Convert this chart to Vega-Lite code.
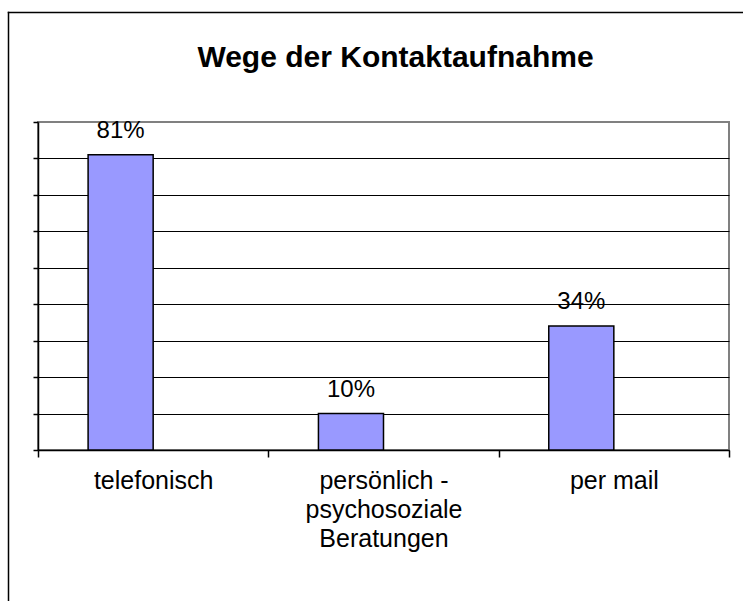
{
  "$schema": "https://vega.github.io/schema/vega-lite/v6.json",
  "autosize": {"type": "none"},
  "width": 691,
  "height": 328,
  "padding": {"left": 38, "top": 122, "right": 14, "bottom": 151},
  "background": "white",
  "config": {"font": "Liberation Sans", "view": {"stroke": "#808080", "strokeWidth": 2}},
  "title": {"text": "Wege der Kontaktaufnahme", "fontSize": 30, "fontWeight": "bold", "color": "black", "anchor": "middle", "dx": 12, "baseline": "alphabetic", "offset": -85, "font": "Liberation Sans"},
  "data": {"values": [
    {"Weg": "telefonisch", "Reihe": "Reihe1", "Anteil": 0.81},
    {"Weg": "persönlich - psychosoziale Beratungen", "Reihe": "Reihe1", "Anteil": 0.10},
    {"Weg": "per mail", "Reihe": "Reihe1", "Anteil": 0.34}
  ]},
  "layer": [
    {
      "encoding": {
        "x": {"field": "Weg", "type": "nominal", "sort": null, "scale": {"paddingInner": 0, "paddingOuter": 0},
          "axis": {"title": null, "orient": "bottom", "tickBand": "extent", "tickSize": 7, "tickColor": "black", "tickWidth": 1.5, "domainColor": "black", "domainWidth": 1.5, "grid": false, "labelAngle": 0, "labelFontSize": 25, "labelColor": "black", "labelPadding": 11, "labelLineHeight": 29, "labelLimit": 0,
            "labelExpr": "datum.label == 'persönlich - psychosoziale Beratungen' ? ['persönlich -', 'psychosoziale', 'Beratungen'] : datum.label"}},
        "xOffset": {"field": "Reihe", "type": "nominal", "scale": {"domain": ["Reihe1", "Reihe2"], "paddingInner": 0, "paddingOuter": 0.77}},
        "y": {"field": "Anteil", "type": "quantitative", "scale": {"domain": [0, 0.9], "nice": false},
          "axis": {"title": null, "orient": "left", "values": [0, 0.1, 0.2, 0.3, 0.4, 0.5, 0.6, 0.7, 0.8, 0.9], "tickCount": 20, "labels": false, "labelOverlap": false, "tickSize": 5, "tickColor": "black", "tickWidth": 1.5, "domainColor": "black", "domainWidth": 1.5, "grid": true, "gridWidth": 1,
            "gridColor": {"condition": {"test": "datum.value >= 0.85", "value": "#808080"}, "value": "black"}}}
      },
      "layer": [
        {"mark": {"type": "bar", "color": "#9999FF", "stroke": "black", "strokeWidth": 1.5}},
        {
          "mark": {"type": "text", "fontSize": 24, "dy": -17, "baseline": "alphabetic", "color": "black"},
          "encoding": {"text": {"field": "Anteil", "type": "quantitative", "format": ".0%"}}
        }
      ]
    },
    {
      "mark": {"type": "point", "opacity": 0},
      "encoding": {
        "x": {"field": "Anteil", "type": "quantitative", "scale": {"domain": [0, 1], "range": [-30, 900]},
          "axis": {"orient": "top", "offset": 110, "title": null, "ticks": false, "labels": false, "grid": false, "domainColor": "black", "domainWidth": 1.5, "domainCap": "square"}},
        "y": {"field": "Anteil", "type": "quantitative", "scale": {"domain": [0, 1], "range": [700, -110]},
          "axis": {"orient": "left", "offset": 30, "title": null, "ticks": false, "labels": false, "grid": false, "domainColor": "black", "domainWidth": 1.5, "domainCap": "square"}}
      }
    }
  ],
  "resolve": {"scale": {"x": "independent", "y": "independent"}, "axis": {"x": "independent", "y": "independent"}}
}
